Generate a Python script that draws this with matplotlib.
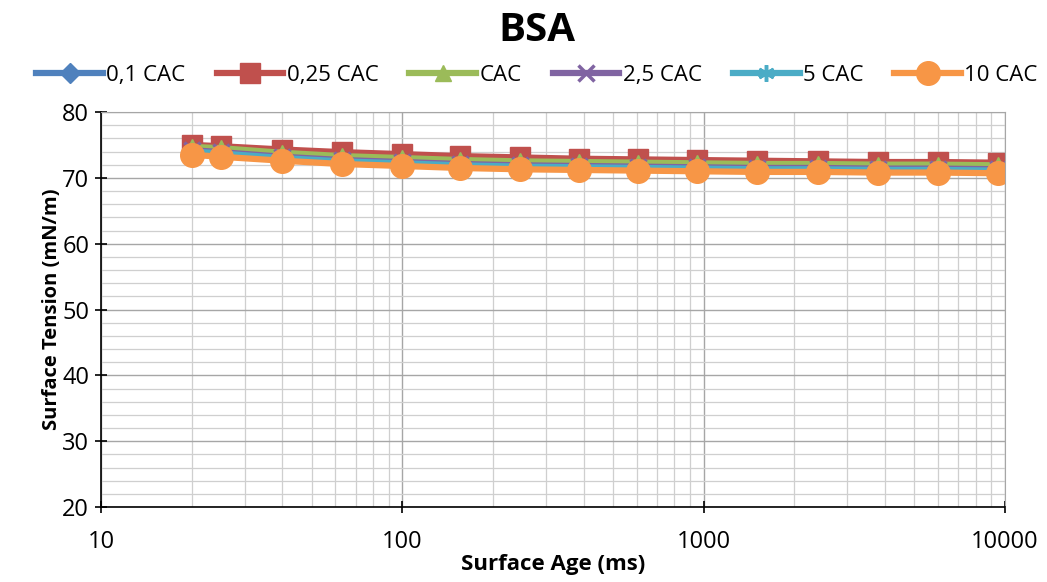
import matplotlib
matplotlib.use("Agg")
import matplotlib.pyplot as plt
from matplotlib.ticker import LogLocator, MultipleLocator, FixedLocator

plt.rcParams['font.family'] = ['Open Sans', 'DejaVu Sans']

# surface age (ms)
age = [20, 25, 40, 63, 100, 155, 245, 385, 605, 950, 1500, 2400, 3800, 6000, 9500]

# surface tension (mN/m) per concentration
cac_01 = [74.3, 74.0, 73.3, 72.8, 72.5, 72.2, 72.0, 71.9, 71.8, 71.7, 71.6, 71.6, 71.5, 71.5, 71.4]
cac_025 = [75.0, 74.8, 74.3, 73.9, 73.6, 73.3, 73.1, 72.9, 72.8, 72.7, 72.6, 72.5, 72.4, 72.4, 72.3]
cac_1 = [74.7, 74.5, 73.8, 73.3, 73.0, 72.7, 72.5, 72.4, 72.3, 72.2, 72.1, 72.1, 72.0, 72.0, 71.9]
cac_25 = [74.2, 73.9, 73.2, 72.7, 72.4, 72.1, 71.9, 71.8, 71.7, 71.6, 71.5, 71.5, 71.4, 71.4, 71.3]
cac_5 = [74.0, 73.7, 73.0, 72.5, 72.2, 71.9, 71.7, 71.6, 71.5, 71.4, 71.3, 71.3, 71.2, 71.2, 71.1]
cac_10 = [73.5, 73.2, 72.6, 72.1, 71.8, 71.5, 71.3, 71.2, 71.1, 71.0, 70.9, 70.9, 70.8, 70.8, 70.7]

series = [
    ("0,1 CAC", cac_01, "#4F81BD", "D", 10),
    ("0,25 CAC", cac_025, "#C0504D", "s", 15),
    ("CAC", cac_1, "#9BBB59", "^", 12),
    ("2,5 CAC", cac_25, "#8064A2", "x", 11),
    ("5 CAC", cac_5, "#4BACC6", (6, 2, 0), 12),
    ("10 CAC", cac_10, "#F79646", "o", 17),
]

fig = plt.figure(figsize=(10.47, 5.82), dpi=100)
ax = fig.add_axes([101 / 1047, 1 - 507 / 582, (1005 - 101) / 1047, (507 - 112) / 582])

for name, vals, col, mk, ms in series:
    thin = mk == "x" or isinstance(mk, tuple)
    ax.plot(age, vals, color=col, lw=4.5, marker=mk, ms=ms, mew=2.5 if thin else 1,
            mec=col, mfc=col, label=name)

ax.set_xscale("log")
ax.set_xlim(10, 10000)
ax.set_ylim(20, 80)
ax.xaxis.set_major_locator(FixedLocator([10, 100, 1000, 10000]))
ax.xaxis.set_minor_locator(LogLocator(base=10, subs=range(2, 10)))
ax.set_xticklabels(["10", "100", "1000", "10000"])
ax.yaxis.set_major_locator(MultipleLocator(10))
ax.yaxis.set_minor_locator(MultipleLocator(2))

ax.grid(which="major", color="#a6a6a6", lw=1)
ax.grid(which="minor", color="#cfcfcf", lw=0.9)
ax.set_axisbelow(True)
for s in ("top", "right"):
    ax.spines[s].set_color("#a6a6a6")
for s in ("left", "bottom"):
    ax.spines[s].set_color("black")
    ax.spines[s].set_linewidth(1.2)

ax.tick_params(which="major", direction="inout", length=9, width=1.2, labelsize=17, colors="black")
ax.tick_params(axis="x", which="major", pad=12)
ax.tick_params(axis="y", which="major", pad=4)
ax.tick_params(which="minor", length=0)

ax.set_xlabel("Surface Age (ms)", fontsize=16, fontweight="bold", labelpad=0)
ax.set_ylabel("Surface Tension (mN/m)", fontsize=14.5, fontweight="bold", labelpad=0)

fig.text(0.513, 0.947, "BSA", ha="center", va="center", fontsize=29, fontweight="bold")
fig.legend(loc="center", bbox_to_anchor=(0.513, 0.870), ncol=6, frameon=False, fontsize=16,
           handlelength=3.0, handletextpad=0.15, columnspacing=1.4, borderaxespad=0)

fig.savefig("out.png", dpi=100)
